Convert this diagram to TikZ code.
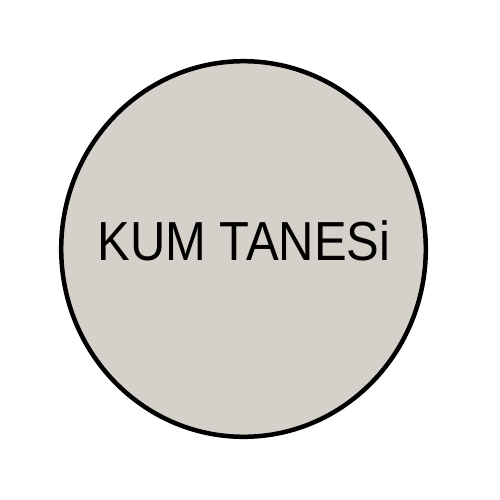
\documentclass[tikz,border=0pt]{standalone}
\usepackage{fontspec}
\setmainfont{Liberation Sans}
\usepackage{tikz}
\usetikzlibrary{calc}
\definecolor{sand}{RGB}{213,209,202}

\begin{document}
\begin{tikzpicture}[x=1pt,y=-1pt]
	
	\useasboundingbox (0,0) rectangle (500,500);
	
	\coordinate (g) at (243.5,249);
	\draw[line width=4.5pt, fill=sand] (g) ellipse (182.3 and 187.8);
	
	\node[anchor=base, inner sep=0pt] (kum) at (244,260.7) {\scalebox{0.89}[1]{\fontsize{55}{60}\selectfont KUM TANESi}};
	
\end{tikzpicture}
\end{document}
